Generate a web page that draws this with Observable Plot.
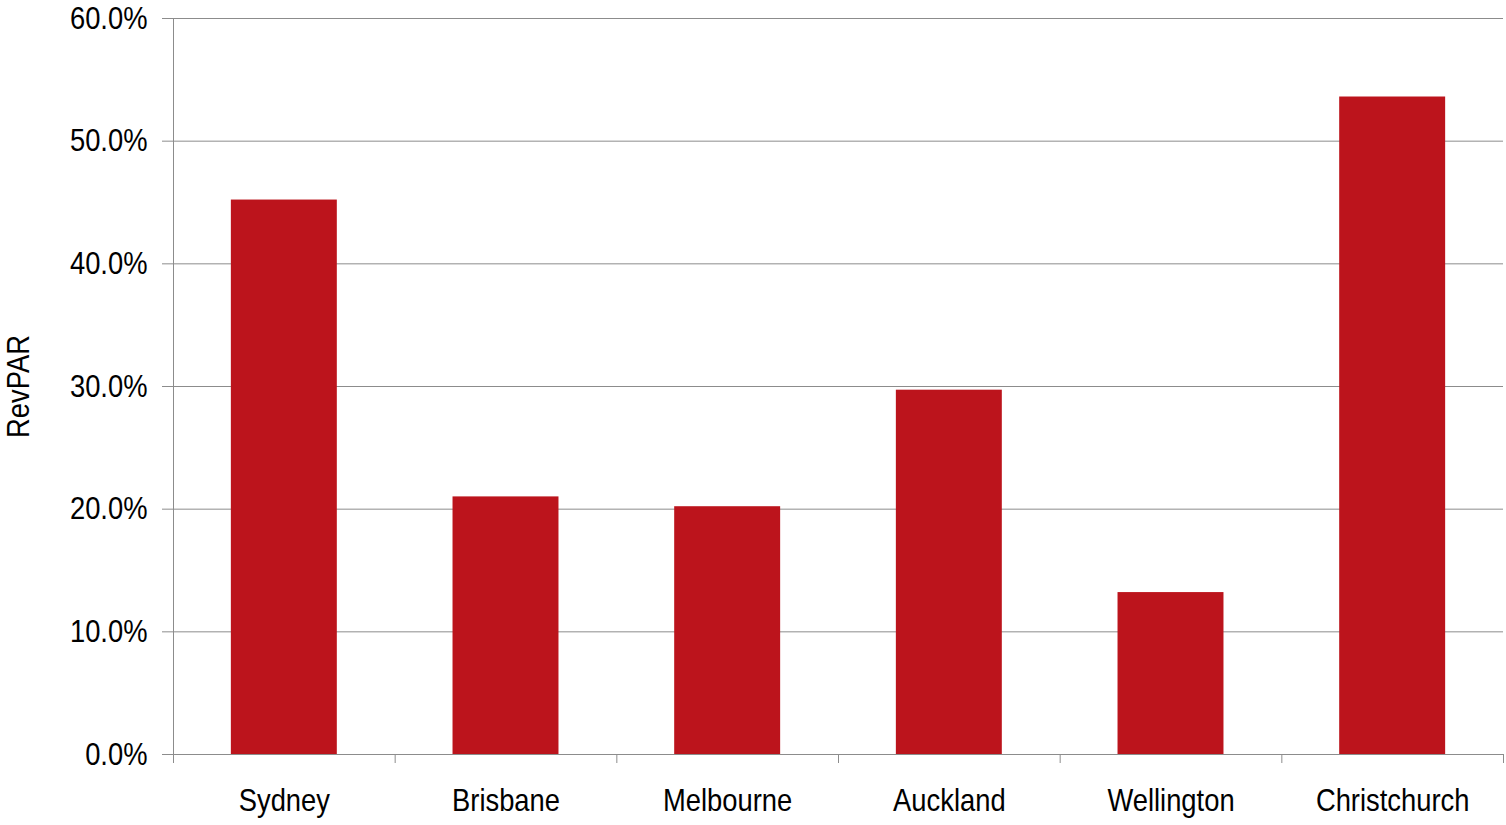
<!DOCTYPE html>
<html>
<head>
<meta charset="utf-8">
<script src="https://cdn.jsdelivr.net/npm/d3@7"></script>
<script src="https://cdn.jsdelivr.net/npm/@observablehq/plot@0.6"></script>
<style>
  html, body { margin: 0; padding: 0; background: #fff; }
  #chart svg { display: block; }
</style>
</head>
<body>
<div id="chart"></div>
<script>
const categories = ["Sydney", "Brisbane", "Melbourne", "Auckland", "Wellington", "Christchurch"];
const values = [0.452, 0.210, 0.202, 0.297, 0.132, 0.536];
const yTicks = [0, 0.1, 0.2, 0.3, 0.4, 0.5, 0.6];
const yLabel = "RevPAR";

const data = categories.map((c, i) => ({city: c, value: values[i]}));

const W = 1506, H = 825;
const mL = 173, mR = 3, mT = 18, mB = 71;
const halfStep = (W - mL - mR) / categories.length / 2;
const font = '"Liberation Sans", Arial, sans-serif';
const gridColor = "#8c8c8c";
const narrow = 0.855;

const chart = Plot.plot({
  width: W,
  height: H,
  marginLeft: mL,
  marginRight: mR,
  marginTop: mT,
  marginBottom: mB,
  style: {fontFamily: font, fontSize: "32px", color: "#000", background: "#fff"},
  x: {domain: categories, paddingInner: 0.522, paddingOuter: 0.261, round: false},
  y: {domain: [0, 0.6]},
  marks: [
    Plot.gridY(yTicks, {stroke: gridColor, strokeOpacity: 1}),
    Plot.barY(data, {x: "city", y: "value", fill: "#BC141C"}),
    Plot.axisY({
      ticks: yTicks, tickFormat: d3.format(".1%"), tickSize: 11, tickPadding: 15,
      stroke: gridColor, fill: "#000", fontSize: 32,
      label: yLabel, labelAnchor: "center", labelArrow: "none", labelOffset: 167
    }),
    Plot.ruleX([categories[0]], {dx: -halfStep, stroke: gridColor}),
    Plot.ruleY([0], {stroke: gridColor}),
    Plot.axisX({tickSize: 9, tickFormat: () => "", dx: -halfStep, stroke: gridColor, label: null}),
    Plot.axisX({ticks: [categories[categories.length - 1]], tickSize: 9, tickFormat: () => "", dx: halfStep, stroke: gridColor, label: null}),
    Plot.axisX({tickSize: 0, tickPadding: 34, fill: "#000", fontSize: 32, label: null})
  ]
});

// Narrow the glyphs (Arial Narrow look) around each text's anchor point
chart.querySelectorAll("text").forEach(t => {
  const tr = t.getAttribute("transform") || "";
  const xa = t.getAttribute("x");
  let extra = "";
  if (xa !== null && /^-?[\d.]+$/.test(xa.trim())) {
    extra = ` translate(${+xa},0)`;
    t.removeAttribute("x");
  }
  t.setAttribute("transform", `${tr}${extra} scale(${narrow},1)`);
});
document.getElementById("chart").appendChild(chart);
</script>
</body>
</html>
